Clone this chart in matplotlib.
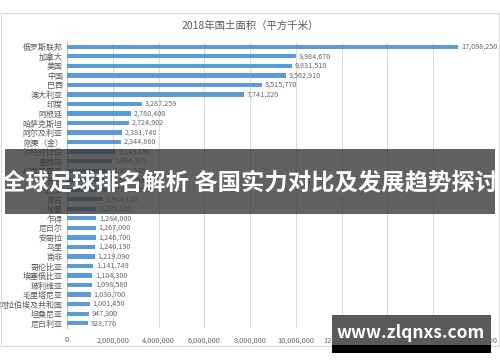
import matplotlib.pyplot as plt
from matplotlib.patches import Rectangle
from matplotlib.ticker import FuncFormatter

plt.rcParams['font.family'] = ['Noto Sans CJK SC', 'DejaVu Sans']

# 国家与国土面积（平方千米），自上而下
countries = ['俄罗斯联邦', '加拿大', '美国', '中国', '巴西', '澳大利亚', '印度', '阿根廷',
             '哈萨克斯坦', '阿尔及利亚', '刚果（金）', '沙特阿拉伯', '墨西哥', '印度尼西亚',
             '苏丹', '利比亚', '蒙古', '秘鲁', '乍得', '尼日尔', '安哥拉', '马里', '南非',
             '哥伦比亚', '埃塞俄比亚', '玻利维亚', '毛里塔尼亚', '阿拉伯埃及共和国',
             '坦桑尼亚', '尼日利亚']
areas = [17098250, 9984670, 9831510, 9562910, 8515770, 7741220, 3287259, 2780400,
         2724902, 2381740, 2344860, 2149690, 1964375, 1913580,
         1868000, 1759540, 1564120, 1285220, 1284000, 1267000, 1246700, 1240190, 1219090,
         1141749, 1104300, 1098580, 1030700, 1001450,
         947300, 923770]
x_ticks = list(range(0, 18000001, 2000000))

fig = plt.figure(figsize=(5, 3.62), dpi=100)
ax = fig.add_axes([0.134, 0.094, 0.824, 0.79])

# 外框
fig.patches.append(Rectangle((0.002, 0.044), 0.996, 0.92, transform=fig.transFigure,
                             fill=False, edgecolor='#d9d9d9', linewidth=0.8))

ypos = range(len(countries))
ax.barh(ypos, areas, height=0.45, color='#5b9bd5', zorder=3)
for y, v in zip(ypos, areas):
    ax.text(v + 120000, y, f'{v:,}', va='center', ha='left', fontsize=5.2,
            color='#666666', zorder=4)

ax.set_yticks(list(ypos))
ax.set_yticklabels(countries, fontsize=5.8, color='#595959')
ax.set_ylim(len(countries) - 0.5, -0.5)
ax.set_xlim(0, 18000000)
ax.set_xticks(x_ticks)
ax.xaxis.set_major_formatter(FuncFormatter(lambda v, p: f'{int(v):,}'))
ax.tick_params(axis='x', labelsize=5.3, labelcolor='#666666', length=0, pad=6)
ax.tick_params(axis='y', length=0, pad=3)
ax.grid(axis='x', color='#d9d9d9', linewidth=0.7, zorder=0)
for s in ['top', 'right', 'bottom']:
    ax.spines[s].set_visible(False)
ax.spines['left'].set_color('#bfbfbf')
ax.spines['left'].set_linewidth(0.8)

fig.text(0.5, 0.93, '2018年国土面积（平方千米）', ha='center', va='center',
         fontsize=7.5, color='#595959')

# 横幅
fig.patches.append(Rectangle((0.01, 0.41), 0.98, 0.178, transform=fig.transFigure,
                             facecolor='#3a3a3a', alpha=0.8, edgecolor='none', zorder=10))
fig.text(0.5, 0.497, '全球足球排名解析 各国实力对比及发展趋势探讨', ha='center', va='center',
         fontsize=16.8, fontweight='bold', color='white', zorder=11)

# 水印
fig.patches.append(Rectangle((0.664, 0.025), 0.318, 0.023, transform=fig.transFigure,
                             facecolor='black', edgecolor='none', zorder=10))
fig.patches.append(Rectangle((0.664, 0.048), 0.318, 0.082, transform=fig.transFigure,
                             facecolor='#5a5a5a', edgecolor='none', zorder=10))
fig.text(0.822, 0.08, 'www.zlqnxs.com', ha='center', va='center',
         fontsize=12.5, fontweight='bold', color='white', zorder=11)

fig.savefig('out.png', dpi=100)
